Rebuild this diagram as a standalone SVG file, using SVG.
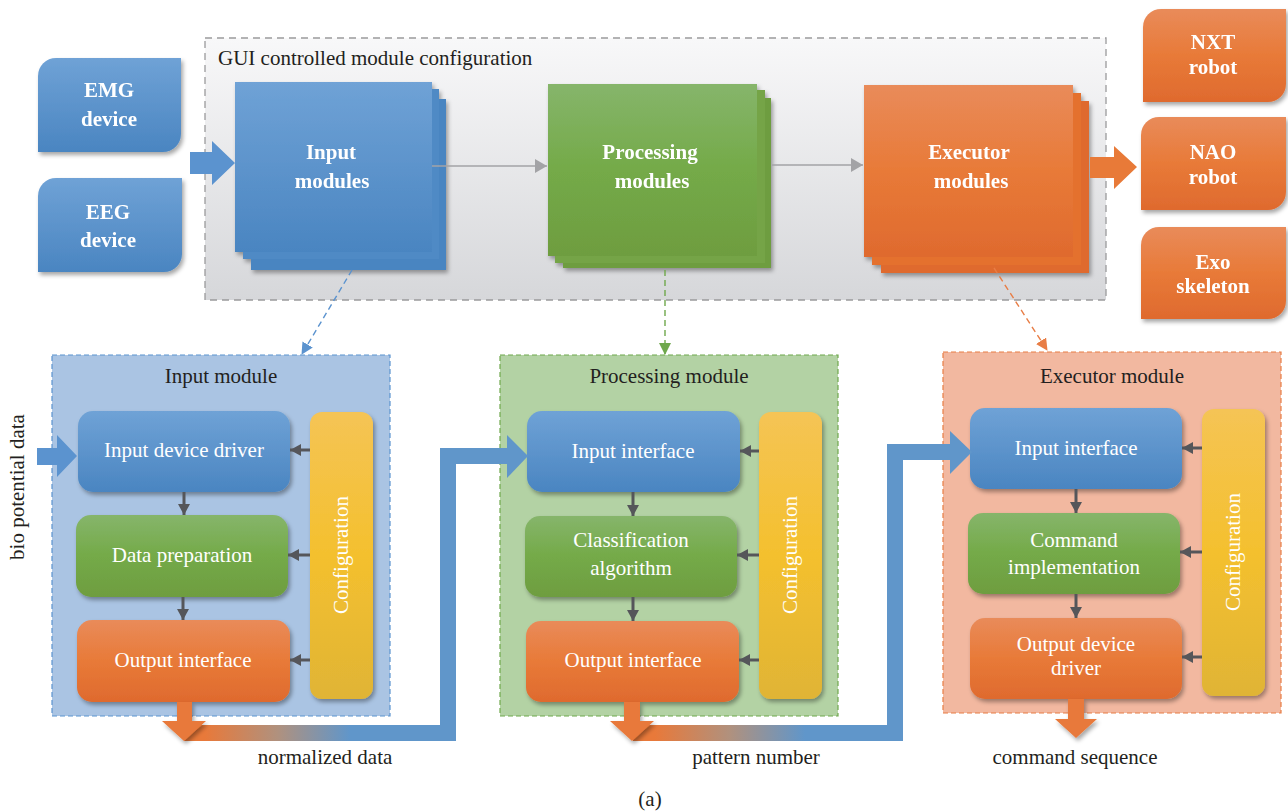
<svg xmlns="http://www.w3.org/2000/svg" width="1288" height="811" viewBox="0 0 1288 811">
<defs>
<linearGradient id="gBlue" x1="0" y1="0" x2="0" y2="1"><stop offset="0" stop-color="#6fa2d6"/><stop offset="1" stop-color="#4a85c1"/></linearGradient>
<linearGradient id="gGreen" x1="0" y1="0" x2="0" y2="1"><stop offset="0" stop-color="#86b56b"/><stop offset="0.5" stop-color="#74aa48"/><stop offset="1" stop-color="#6e9d40"/></linearGradient>
<linearGradient id="gOrange" x1="0" y1="0" x2="0" y2="1"><stop offset="0" stop-color="#e98b5a"/><stop offset="0.5" stop-color="#e87a38"/><stop offset="1" stop-color="#df6a2e"/></linearGradient>
<linearGradient id="gYellow" x1="0" y1="0" x2="0" y2="1"><stop offset="0" stop-color="#f5c455"/><stop offset="0.5" stop-color="#f4c02e"/><stop offset="1" stop-color="#e0b435"/></linearGradient>
<linearGradient id="gGui" x1="0" y1="0" x2="0" y2="1"><stop offset="0" stop-color="#f8f8f9"/><stop offset="1" stop-color="#d6d7da"/></linearGradient>
<linearGradient id="gBand1" gradientUnits="userSpaceOnUse" x1="205" y1="0" x2="350" y2="0"><stop offset="0" stop-color="#e8793a"/><stop offset="0.5" stop-color="#b0917e"/><stop offset="1" stop-color="#6096ca"/></linearGradient>
<linearGradient id="gBand2" gradientUnits="userSpaceOnUse" x1="655" y1="0" x2="805" y2="0"><stop offset="0" stop-color="#e8793a"/><stop offset="0.5" stop-color="#b0917e"/><stop offset="1" stop-color="#6096ca"/></linearGradient>
<filter id="sh" x="-10%" y="-10%" width="130%" height="130%"><feDropShadow dx="2" dy="3" stdDeviation="2" flood-color="#000" flood-opacity="0.35"/></filter>
<marker id="mGray" markerUnits="userSpaceOnUse" markerWidth="12" markerHeight="14" refX="12" refY="7" orient="auto"><path d="M0,0 L12,7 L0,14 Z" fill="#a3a3a6"/></marker>
<marker id="mDark" markerUnits="userSpaceOnUse" markerWidth="11" markerHeight="12" refX="11" refY="6" orient="auto"><path d="M0,0 L11,6 L0,12 Z" fill="#55565a"/></marker>
<marker id="mBlue" markerUnits="userSpaceOnUse" markerWidth="12" markerHeight="12" refX="11" refY="6" orient="auto"><path d="M0,0 L12,6 L0,12 Z" fill="#5b93cf"/></marker>
<marker id="mGreen" markerUnits="userSpaceOnUse" markerWidth="12" markerHeight="12" refX="11" refY="6" orient="auto"><path d="M0,0 L12,6 L0,12 Z" fill="#6fa84c"/></marker>
<marker id="mOr" markerUnits="userSpaceOnUse" markerWidth="12" markerHeight="12" refX="11" refY="6" orient="auto"><path d="M0,0 L12,6 L0,12 Z" fill="#e87d45"/></marker>
</defs>
<style>
text{font-family:"Liberation Serif","Times New Roman",serif;}
.bt{font-size:21px;font-weight:bold;fill:#fff;text-anchor:middle;}
.wt{font-size:21px;fill:#fff;text-anchor:middle;}
.kt{font-size:21px;fill:#231f20;}
.c{text-anchor:middle;}
.gray{stroke:#a3a3a6;stroke-width:1.5;fill:none;}
.dark{stroke:#55565a;stroke-width:3;fill:none;}
</style>
<rect width="1288" height="811" fill="#fff"/>

<!-- GUI container -->
<g id="gui">
<rect x="205" y="38" width="901" height="262" fill="url(#gGui)" stroke="#9a9a9c" stroke-width="1.3" stroke-dasharray="7,5"/>
<text class="kt" x="218" y="65">GUI controlled module configuration</text>
</g>

<!-- devices -->
<g id="emg" filter="url(#sh)">
<path d="M56,58 H181 V134 A18,18 0 0 1 163,152 H38 V76 A18,18 0 0 1 56,58 Z" fill="url(#gBlue)"/>
<text class="bt" x="109" y="97">EMG</text><text class="bt" x="109" y="126">device</text>
</g>
<g id="eeg" filter="url(#sh)">
<path d="M56,178 H182 V254 A18,18 0 0 1 164,272 H38 V196 A18,18 0 0 1 56,178 Z" fill="url(#gBlue)"/>
<text class="bt" x="108" y="219">EEG</text><text class="bt" x="108" y="247">device</text>
</g>
<g id="nxt" filter="url(#sh)">
<path d="M1161,9 H1286 V84 A18,18 0 0 1 1268,102 H1143 V27 A18,18 0 0 1 1161,9 Z" fill="url(#gOrange)"/>
<text class="bt" x="1213" y="49">NXT</text><text class="bt" x="1213" y="74">robot</text>
</g>
<g id="nao" filter="url(#sh)">
<path d="M1159,117 H1286 V192 A18,18 0 0 1 1268,210 H1141 V135 A18,18 0 0 1 1159,117 Z" fill="url(#gOrange)"/>
<text class="bt" x="1213" y="159">NAO</text><text class="bt" x="1213" y="184">robot</text>
</g>
<g id="exo" filter="url(#sh)">
<path d="M1159,227 H1286 V301 A18,18 0 0 1 1268,319 H1141 V245 A18,18 0 0 1 1159,227 Z" fill="url(#gOrange)"/>
<text class="bt" x="1213" y="269">Exo</text><text class="bt" x="1213" y="293">skeleton</text>
</g>

<!-- top module stacks -->
<g id="inputModules" filter="url(#sh)">
<rect x="251" y="99" width="195" height="171" fill="#4a85c1"/>
<rect x="243" y="89" width="196" height="170" fill="#4f8ac5"/>
<rect x="235" y="82" width="197" height="170" fill="url(#gBlue)"/>
<text class="bt" x="331" y="159">Input</text><text class="bt" x="332" y="188">modules</text>
</g>
<g id="processingModules" filter="url(#sh)">
<rect x="563" y="98" width="208" height="170" fill="#6e9d40"/>
<rect x="555" y="90" width="210" height="173" fill="#74a447"/>
<rect x="548" y="84" width="209" height="172" fill="url(#gGreen)"/>
<text class="bt" x="650" y="159">Processing</text><text class="bt" x="652" y="188">modules</text>
</g>
<g id="executorModules" filter="url(#sh)">
<rect x="881" y="101" width="208" height="172" fill="#df6a2e"/>
<rect x="872" y="93" width="209" height="172" fill="#e4712f"/>
<rect x="864" y="85" width="209" height="172" fill="url(#gOrange)"/>
<text class="bt" x="969" y="159">Executor</text><text class="bt" x="971" y="188">modules</text>
</g>

<!-- lower panels -->
<g id="inputModule">
<rect x="52" y="355" width="338" height="361" fill="#aac4e3" stroke="#5b93cf" stroke-width="1.2" stroke-dasharray="5,3"/>
<text class="kt c" x="221" y="383">Input module</text>
<g filter="url(#sh)">
<rect x="78" y="411" width="212" height="81" rx="15" fill="url(#gBlue)"/>
<rect x="76" y="515" width="212" height="82" rx="15" fill="url(#gGreen)"/>
<rect x="77" y="620" width="213" height="82" rx="15" fill="url(#gOrange)"/>
<rect x="310" y="412" width="63" height="287" rx="12" fill="url(#gYellow)"/>
</g>
<text class="wt" x="184" y="457">Input device driver</text>
<text class="wt" x="182" y="562">Data preparation</text>
<text class="wt" x="183" y="667">Output interface</text>
<text class="wt" transform="translate(348,555) rotate(-90)">Configuration</text>
</g>

<g id="processingModule">
<rect x="500" y="355" width="338" height="361" fill="#b3d2a4" stroke="#6fa84c" stroke-width="1.2" stroke-dasharray="5,3"/>
<text class="kt c" x="669" y="383">Processing module</text>
<g filter="url(#sh)">
<rect x="527" y="411" width="213" height="81" rx="15" fill="url(#gBlue)"/>
<rect x="525" y="516" width="212" height="81" rx="15" fill="url(#gGreen)"/>
<rect x="526" y="621" width="213" height="81" rx="15" fill="url(#gOrange)"/>
<rect x="759" y="412" width="63" height="287" rx="12" fill="url(#gYellow)"/>
</g>
<text class="wt" x="633" y="458">Input interface</text>
<text class="wt" x="631" y="547">Classification</text>
<text class="wt" x="631" y="575">algorithm</text>
<text class="wt" x="633" y="667">Output interface</text>
<text class="wt" transform="translate(797,555) rotate(-90)">Configuration</text>
</g>

<g id="executorModule">
<rect x="943" y="352" width="338" height="361" fill="#f2b8a0" stroke="#e87d45" stroke-width="1.2" stroke-dasharray="5,3"/>
<text class="kt c" x="1112" y="383">Executor module</text>
<g filter="url(#sh)">
<rect x="970" y="408" width="212" height="81" rx="15" fill="url(#gBlue)"/>
<rect x="968" y="513" width="212" height="81" rx="15" fill="url(#gGreen)"/>
<rect x="970" y="618" width="212" height="81" rx="15" fill="url(#gOrange)"/>
<rect x="1202" y="409" width="63" height="287" rx="12" fill="url(#gYellow)"/>
</g>
<text class="wt" x="1076" y="455">Input interface</text>
<text class="wt" x="1074" y="547">Command</text>
<text class="wt" x="1074" y="574">implementation</text>
<text class="wt" x="1076" y="651">Output device</text>
<text class="wt" x="1076" y="675">driver</text>
<text class="wt" transform="translate(1240,552) rotate(-90)">Configuration</text>
</g>

<!-- connectors -->
<g id="connectors">
<polygon points="190,152 212,152 212,141 235,163 212,185 212,174 190,174" fill="#5b93cf"/>
<polygon points="1090,157 1114,157 1114,146 1137,167 1114,189 1114,178 1090,178" fill="#e87a38"/>
<path class="gray" d="M432,166 H547" marker-end="url(#mGray)"/>
<path class="gray" d="M772,165 H863" marker-end="url(#mGray)"/>
<path d="M352,270 L302,354" stroke="#5b93cf" stroke-width="1.4" stroke-dasharray="6,4" fill="none" marker-end="url(#mBlue)"/>
<path d="M665,270 L665,354" stroke="#6fa84c" stroke-width="1.4" stroke-dasharray="6,4" fill="none" marker-end="url(#mGreen)"/>
<path d="M994,268 L1047,350" stroke="#e87d45" stroke-width="1.4" stroke-dasharray="6,4" fill="none" marker-end="url(#mOr)"/>

<polygon points="37,448 57,448 57,435 77,456 57,477 57,465 37,465" fill="#5b93cf"/>

<path class="dark" d="M310,450 H290" marker-end="url(#mDark)"/>
<path class="dark" d="M310,555 H288" marker-end="url(#mDark)"/>
<path class="dark" d="M310,660 H290" marker-end="url(#mDark)"/>
<path class="dark" d="M184,492 V515" marker-end="url(#mDark)"/>
<path class="dark" d="M183,597 V620" marker-end="url(#mDark)"/>

<path class="dark" d="M759,451 H740" marker-end="url(#mDark)"/>
<path class="dark" d="M759,555 H737" marker-end="url(#mDark)"/>
<path class="dark" d="M759,660 H739" marker-end="url(#mDark)"/>
<path class="dark" d="M633,492 V516" marker-end="url(#mDark)"/>
<path class="dark" d="M633,597 V621" marker-end="url(#mDark)"/>

<path class="dark" d="M1202,448 H1182" marker-end="url(#mDark)"/>
<path class="dark" d="M1202,552 H1180" marker-end="url(#mDark)"/>
<path class="dark" d="M1202,657 H1182" marker-end="url(#mDark)"/>
<path class="dark" d="M1076,489 V513" marker-end="url(#mDark)"/>
<path class="dark" d="M1076,594 V618" marker-end="url(#mDark)"/>

<path d="M184,733 H448 V456 H509" stroke="url(#gBand1)" stroke-width="16" fill="none" stroke-linejoin="miter"/>
<polygon points="507,435 528,456 507,478" fill="#6096ca"/>
<path d="M633,733 H895 V452 H952" stroke="url(#gBand2)" stroke-width="16" fill="none" stroke-linejoin="miter"/>
<polygon points="950,431 972,452 950,474" fill="#6096ca"/>

<g filter="url(#sh)">
<polygon points="177,702 192,702 192,721 206,721 184,741 162,721 177,721" fill="#e8793a"/>
<polygon points="624,702 640,702 640,721 654,721 632,741 610,721 624,721" fill="#e8793a"/>
<polygon points="1068,699 1084,699 1084,719 1097,719 1076,738 1055,719 1068,719" fill="#e8793a"/>
</g>
</g>

<text class="kt" transform="translate(24,487) rotate(-90)" text-anchor="middle">bio potential data</text>
<text class="kt c" x="325" y="764">normalized data</text>
<text class="kt c" x="756" y="764">pattern number</text>
<text class="kt c" x="1075" y="764">command sequence</text>
<text class="kt c" x="650" y="806">(a)</text>
</svg>
